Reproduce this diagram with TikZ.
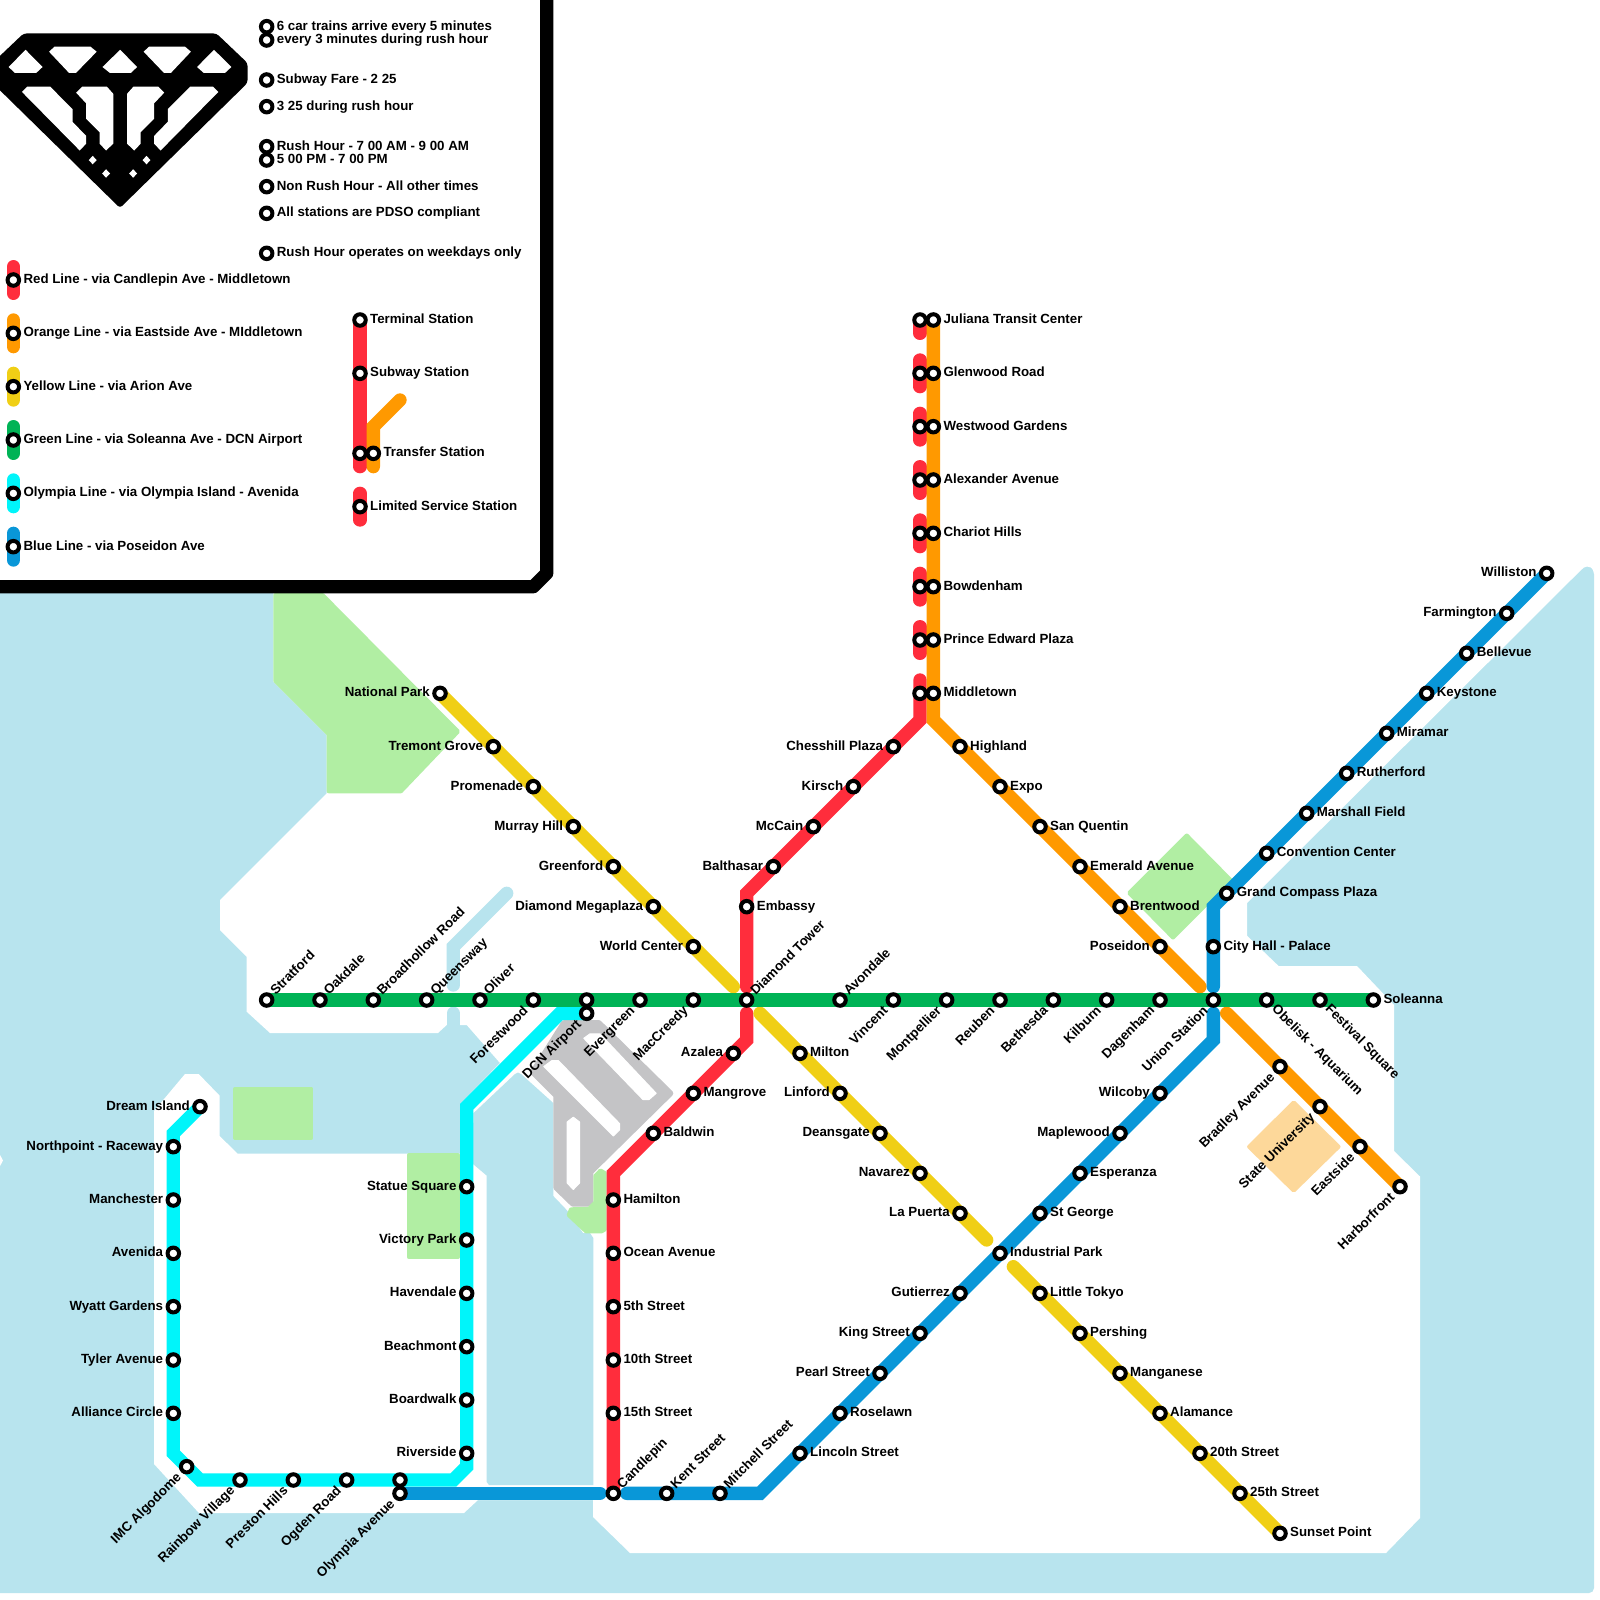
\documentclass[tikz,border=0pt]{standalone}
\usepackage{fontspec}
\setmainfont{Liberation Sans}
\definecolor{cRed}{HTML}{FF2D3C}
\definecolor{cOrange}{HTML}{FF9900}
\definecolor{cYellow}{HTML}{F0CF15}
\definecolor{cGreen}{HTML}{00B356}
\definecolor{cCyan}{HTML}{00F5FA}
\definecolor{cBlue}{HTML}{0997D8}
\definecolor{cWater}{HTML}{B8E4EE}
\definecolor{cPark}{HTML}{B1EEA3}
\definecolor{cGrey}{HTML}{C4C4C6}
\definecolor{cUni}{HTML}{FDD89A}
\pgfdeclarelayer{base}
\pgfdeclarelayer{lines}
\pgfsetlayers{base,lines,main}
\tikzset{
  stn/.style={circle,draw=black,fill=white,line width=4pt,inner sep=0pt,outer sep=0pt,minimum size=11.5pt},
  lbl/.style={inner sep=0pt,font=\fontsize{13.3}{15}\selectfont\bfseries,text=black},
  route/.style={line width=13.33pt,line cap=round,miter limit=10},
  parkshape/.style={fill=cPark,draw=cPark,line width=4pt,line join=round},
  unishape/.style={fill=cUni,draw=cUni,line width=4pt,line join=round},
  greyshape/.style={fill=cGrey,draw=cGrey,line width=6pt,line join=round},
  hole/.style={fill=white,draw=white,line width=1pt,line join=round},
  landshape/.style={fill=white},
  watershape/.style={fill=cWater},
}
\newcommand\stN[3]{\node[stn] (#1) at (#2,#3) {};}
\newcommand\stR[4]{\node[stn] (#1) at (#2,#3) {};\node[lbl,anchor=base west] (#1-l) at (#2+10,#3+3.5) {#4};}
\newcommand\stL[4]{\node[stn] (#1) at (#2,#3) {};\node[lbl,anchor=base east] (#1-l) at (#2-10,#3+3.5) {#4};}
\newcommand\stU[4]{\node[stn] (#1) at (#2,#3) {};\node[lbl,rotate=45,anchor=base west] (#1-l) at (#2+9,#3-4) {#4};}
\newcommand\stD[4]{\node[stn] (#1) at (#2,#3) {};\node[lbl,rotate=45,anchor=base east] (#1-l) at (#2-4.6,#3+11.4) {#4};}
\newcommand\stE[4]{\node[stn] (#1) at (#2,#3) {};\node[lbl,rotate=-45,anchor=base west] (#1-l) at (#2+4.6,#3+9.6) {#4};}
\newcommand\bendpt[3]{\coordinate (#1) at (#2,#3);}
\begin{document}
\begin{tikzpicture}[x=1pt,y=-1pt]
\useasboundingbox (0,0) rectangle (1600,1600);
%---------- geography
\begin{pgfonlayer}{base}
\fill[white] (0,0) rectangle (1600,1600);
\path[watershape,rounded corners=5pt] (-5,500) -- (1594,500) -- (1594,1593) -- (-5,1593) -- cycle;
\path[landshape] (273.3,500) -- (273.3,681.7) -- (326.7,735) -- (326.7,793.3) -- (220,900) -- (220,930)
  -- (246.7,956.7) -- (246.7,1011.7) -- (270,1033) -- (438,1033) -- (446.7,1025) -- (466.7,1025)
  -- (500,1063) -- (460,1104) -- (460,1153.5) -- (237.5,1153.5) -- (219.6,1136) -- (219.6,1095.6)
  -- (198.7,1074) -- (185,1074) -- (154,1111) -- (154,1464) -- (199,1513) -- (464,1513) -- (478,1500)
  -- (593,1500) -- (593,1517) -- (630,1553) -- (1386,1553) -- (1420,1518) -- (1420,1176.5) -- (1394,1151)
  -- (1394,1005) -- (1357,966) -- (1278.6,966) -- (1247,935.7) -- (1247,903) -- (1581,570) -- (1584,567.5) -- (1587,566.5)
  -- (1591,567.5) -- (1593,570) -- (1594,574) -- (1605,574) -- (1605,-5) -- (273.3,-5) -- cycle;
\path[watershape] (473.3,1113.3) -- (515,1074) -- (518,1072.5) -- (521,1074) -- (553.3,1103) -- (553.3,1196) -- (566.7,1210) -- (583,1233)
  -- (590,1233) -- (593.3,1238) -- (593.3,1485) -- (489,1485) -- (486.7,1482) -- (486.7,1175.6) -- (473,1164) -- cycle;
\fill[white] (-1,1153) -- (3,1160.5) -- (-1,1168) -- cycle;
% rivers
\draw[cWater,line width=13.33pt,line cap=round] (453.3,985) -- (453.3,946.7) -- (506.7,893.3);
\draw[cWater,line width=13.33pt,line cap=round] (453.3,1013.3) -- (453.3,1036);
% parks
\path[parkshape] (275.3,595) -- (322.5,595) -- (458,731.5) -- (400.9,791.3) -- (328.7,791.3) -- (328.7,734.2) -- (275.3,680.8) -- cycle;
\path[parkshape] (235.3,1088.7) rectangle (311.3,1138);
\path[parkshape] (408.7,1155.3) rectangle (458,1257);
% airport
\path[greyshape] (564,1023) -- (598.7,1023) -- (670.3,1093.3) -- (590.3,1172) -- (590.3,1202) -- (587,1203.7) -- (573,1203.7) -- (556.3,1187.5) -- (556.3,1095.5) -- (533,1072) -- cycle;
\path[hole] (543.8,1066.5) -- (552,1060.5) -- (558.3,1060.5) -- (619.5,1123.5) -- (619.5,1130) -- (613.3,1136) -- cycle;
\path[hole] (583.8,1038.3) -- (590,1033.8) -- (600,1033.8) -- (656.2,1093.3) -- (649.1,1099.5) -- (642.9,1099.5) -- cycle;
\path[hole] (567.2,1121.9) -- (573.3,1117.2) -- (579.5,1121.9) -- (579.5,1183.1) -- (573.3,1189.5) -- (567.2,1183.1) -- cycle;
\path[parkshape] (595.3,1176) -- (600.5,1170.5) -- (604.7,1173) -- (604.7,1229.5) -- (601.7,1231.3) -- (586,1231.3) -- (568.7,1215) -- (571,1209.3) -- (589,1208.7) -- (595.3,1202.5) -- cycle;
\path[parkshape] (1186.7,835.5) -- (1230.5,880) -- (1173,937.5) -- (1129.2,893) -- cycle;
\path[unishape] (1293.7,1102.5) -- (1338.5,1146.7) -- (1293.7,1190.5) -- (1249.1,1146.7) -- cycle;
% legend panel
\fill[white] (-5,-5) rectangle (546,586);
\draw[black,line width=13.33pt,miter limit=10,line join=round] (546.67,-10) -- (546.67,573.3) -- (533.3,586.67) -- (-10,586.67);
% logo
\begin{scope}[xshift=-1.5pt]
\fill[black,rounded corners=3pt] (25,33.5) -- (218,33.5) -- (249,63) -- (249,83) -- (121.5,208) -- (-6,83) -- (-6,63) -- cycle;
\begin{scope}[xscale=0.361,yscale=0.383]
\fill[white] (28,175) -- (75,130) -- (122,175) -- (105,190) -- (45,190) -- cycle;
\fill[white] (140,135) -- (155,122) -- (255,122) -- (272,135) -- (215,190) -- (195,190) -- cycle;
\fill[white] (288,175) -- (337,130) -- (384,175) -- (367,190) -- (308,190) -- cycle;
\fill[white] (402,135) -- (417,122) -- (517,122) -- (533,135) -- (478,190) -- (458,190) -- cycle;
\fill[white] (550,175) -- (597,130) -- (645,175) -- (628,190) -- (568,190) -- cycle;
\fill[white] (65,240) -- (80,226) -- (143,226) -- (205,285) -- (205,318) -- (243,355) -- (243,375) -- (225,393) -- cycle;
\fill[white] (215,242) -- (232,226) -- (300,226) -- (318,245) -- (318,375) -- (298,393) -- (280,375) -- (280,345) -- (243,310) -- (243,270) -- cycle;
\fill[white] (459,242) -- (442,226) -- (374,226) -- (356,245) -- (356,375) -- (376,393) -- (394,375) -- (394,345) -- (431,310) -- (431,270) -- cycle;
\fill[white] (609,240) -- (594,226) -- (531,226) -- (469,285) -- (469,318) -- (431,355) -- (431,375) -- (449,393) -- cycle;
\foreach \dx/\dy in {261/418,298/453,373/453,410/418}
  \fill[white] (\dx-11,\dy) -- (\dx,\dy-11) -- (\dx+11,\dy) -- (\dx,\dy+11) -- cycle;
\end{scope}
\end{scope}
\end{pgfonlayer}
%---------- legend stations
\stR{n1}{266.67}{26.67}{6 car trains arrive every 5 minutes}
\stR{n2}{266.67}{40}{every 3 minutes during rush hour}
\stR{n3}{266.67}{80}{Subway Fare - 2 25}
\stR{n4}{266.67}{106.67}{3 25 during rush hour}
\stR{n5}{266.67}{146.67}{Rush Hour - 7 00 AM - 9 00 AM}
\stR{n6}{266.67}{160}{5 00 PM - 7 00 PM}
\stR{n7}{266.67}{186.67}{Non Rush Hour - All other times}
\stR{n8}{266.67}{213.33}{All stations are PDSO compliant}
\stR{n9}{266.67}{253.33}{Rush Hour operates on weekdays only}
\stR{kr}{13.33}{280}{Red Line - via Candlepin Ave - Middletown}
\stR{ko}{13.33}{333.33}{Orange Line - via Eastside Ave - MIddletown}
\stR{ky}{13.33}{386.67}{Yellow Line - via Arion Ave}
\stR{kg}{13.33}{440}{Green Line - via Soleanna Ave - DCN Airport}
\stR{kc}{13.33}{493.33}{Olympia Line - via Olympia Island - Avenida}
\stR{kb}{13.33}{546.67}{Blue Line - via Poseidon Ave}
\stR{kt}{360}{320}{Terminal Station}
\stR{ks}{360}{373.33}{Subway Station}
\stN{kx}{360}{453.33}
\stR{kz}{373.33}{453.33}{Transfer Station}
\stR{kl}{360}{506.67}{Limited Service Station}
%---------- yellow
\stL{yA}{440}{693.33}{National Park}
\stL{yB}{493.33}{746.67}{Tremont Grove}
\stL{yC}{533.33}{786.67}{Promenade}
\stL{yD}{573.33}{826.67}{Murray Hill}
\stL{yE}{613.33}{866.67}{Greenford}
\stL{yF}{653.33}{906.67}{Diamond Megaplaza}
\stL{yG}{693.33}{946.67}{World Center}
\stR{yH}{800}{1053.33}{Milton}
\stL{yI}{840}{1093.33}{Linford}
\stL{yJ}{880}{1133.33}{Deansgate}
\stL{yK}{920}{1173.33}{Navarez}
\stL{yL}{960}{1213.33}{La Puerta}
\stR{yM}{1040}{1293.33}{Little Tokyo}
\stR{yN}{1080}{1333.33}{Pershing}
\stR{yO}{1120}{1373.33}{Manganese}
\stR{yP}{1160}{1413.33}{Alamance}
\stR{yQ}{1200}{1453.33}{20th Street}
\stR{yR}{1240}{1493.33}{25th Street}
\stR{yS}{1280}{1533.33}{Sunset Point}
%---------- green
\stU{gA}{266.67}{1000}{Stratford}
\stU{gB}{320}{1000}{Oakdale}
\stU{gC}{373.33}{1000}{Broadhollow Road}
\stU{gD}{426.67}{1000}{Queensway}
\stU{gE}{480}{1000}{Oliver}
\stD{gF}{533.33}{1000}{Forestwood}
\stN{gG}{586.67}{1000}
\stD{gH}{640}{1000}{Evergreen}
\stD{gI}{693.33}{1000}{MacCreedy}
\stU{gJ}{746.67}{1000}{Diamond Tower}
\stU{gK}{840}{1000}{Avondale}
\stD{gL}{893.33}{1000}{Vincent}
\stD{gM}{946.67}{1000}{Montpellier}
\stD{gN}{1000}{1000}{Reuben}
\stD{gO}{1053.33}{1000}{Bethesda}
\stD{gP}{1106.67}{1000}{Kilburn}
\stD{gQ}{1160}{1000}{Dagenham}
\stD{gR}{1213.33}{1000}{Union Station}
\stE{gS}{1266.67}{1000}{Obelisk - Aquarium}
\stE{gT}{1320}{1000}{Festival Square}
\stR{gU}{1373.33}{1000}{Soleanna}
%---------- red
\stN{rA}{920}{320}
\stN{rB}{920}{373.33}
\stN{rC}{920}{426.67}
\stN{rD}{920}{480}
\stN{rE}{920}{533.33}
\stN{rF}{920}{586.67}
\stN{rG}{920}{640}
\stN{rH}{920}{693.33}
\stL{rI}{893.33}{746.67}{Chesshill Plaza}
\stL{rJ}{853.33}{786.67}{Kirsch}
\stL{rK}{813.33}{826.67}{McCain}
\stL{rL}{773.33}{866.67}{Balthasar}
\stR{rM}{746.67}{906.67}{Embassy}
\stL{rN}{733.33}{1053.33}{Azalea}
\stR{rO}{693.33}{1093.33}{Mangrove}
\stR{rP}{653.33}{1133.33}{Baldwin}
\stR{rQ}{613.33}{1200}{Hamilton}
\stR{rR}{613.33}{1253.33}{Ocean Avenue}
\stR{rS}{613.33}{1306.67}{5th Street}
\stR{rT}{613.33}{1360}{10th Street}
\stR{rU}{613.33}{1413.33}{15th Street}
\stU{rV}{613.33}{1493.33}{Candlepin}
%---------- orange
\stR{oA}{933.33}{320}{Juliana Transit Center}
\stR{oB}{933.33}{373.33}{Glenwood Road}
\stR{oC}{933.33}{426.67}{Westwood Gardens}
\stR{oD}{933.33}{480}{Alexander Avenue}
\stR{oE}{933.33}{533.33}{Chariot Hills}
\stR{oF}{933.33}{586.67}{Bowdenham}
\stR{oG}{933.33}{640}{Prince Edward Plaza}
\stR{oH}{933.33}{693.33}{Middletown}
\stR{oI}{960}{746.67}{Highland}
\stR{oJ}{1000}{786.67}{Expo}
\stR{oK}{1040}{826.67}{San Quentin}
\stR{oL}{1080}{866.67}{Emerald Avenue}
\stR{oM}{1120}{906.67}{Brentwood}
\stL{oN}{1160}{946.67}{Poseidon}
\stD{oO}{1280}{1066.67}{Bradley Avenue}
\stD{oP}{1320}{1106.67}{State University}
\stD{oQ}{1360}{1146.67}{Eastside}
\stD{oR}{1400}{1186.67}{Harborfront}
%---------- blue
\stD{bA}{400}{1493.33}{Olympia Avenue}
\stU{bB}{666.67}{1493.33}{Kent Street}
\stU{bC}{720}{1493.33}{Mitchell Street}
\stR{bD}{800}{1453.33}{Lincoln Street}
\stR{bE}{840}{1413.33}{Roselawn}
\stL{bF}{880}{1373.33}{Pearl Street}
\stL{bG}{920}{1333.33}{King Street}
\stL{bH}{960}{1293.33}{Gutierrez}
\stR{bI}{1000}{1253.33}{Industrial Park}
\stR{bJ}{1040}{1213.33}{St George}
\stR{bK}{1080}{1173.33}{Esperanza}
\stL{bL}{1120}{1133.33}{Maplewood}
\stL{bM}{1160}{1093.33}{Wilcoby}
\stR{bN}{1213.33}{946.67}{City Hall - Palace}
\stR{bO}{1226.67}{893.33}{Grand Compass Plaza}
\stR{bP}{1266.67}{853.33}{Convention Center}
\stR{bQ}{1306.67}{813.33}{Marshall Field}
\stR{bR}{1346.67}{773.33}{Rutherford}
\stR{bS}{1386.67}{733.33}{Miramar}
\stR{bT}{1426.67}{693.33}{Keystone}
\stR{bU}{1466.67}{653.33}{Bellevue}
\stL{bV}{1506.67}{613.33}{Farmington}
\stL{bW}{1546.67}{573.33}{Williston}
%---------- cyan
\stD{cA}{586.67}{1013.33}{DCN Airport}
\stL{cB}{466.67}{1186.67}{Statue Square}
\stL{cC}{466.67}{1240}{Victory Park}
\stL{cD}{466.67}{1293.33}{Havendale}
\stL{cE}{466.67}{1346.67}{Beachmont}
\stL{cF}{466.67}{1400}{Boardwalk}
\stL{cG}{466.67}{1453.33}{Riverside}
\stN{cH}{400}{1480}
\stD{cI}{346.67}{1480}{Ogden Road}
\stD{cJ}{293.33}{1480}{Preston Hills}
\stD{cK}{240}{1480}{Rainbow Village}
\stD{cL}{186.67}{1466.67}{IMC Algodome}
\stL{cM}{173.33}{1413.33}{Alliance Circle}
\stL{cN}{173.33}{1360}{Tyler Avenue}
\stL{cO}{173.33}{1306.67}{Wyatt Gardens}
\stL{cP}{173.33}{1253.33}{Avenida}
\stL{cQ}{173.33}{1200}{Manchester}
\stL{cR}{173.33}{1146.67}{Northpoint - Raceway}
\stL{cS}{200}{1106.67}{Dream Island}
%---------- free ends and bends
\bendpt{kr1}{13.33}{266.67}\bendpt{kr2}{13.33}{293.33}
\bendpt{ko1}{13.33}{320}\bendpt{ko2}{13.33}{346.67}
\bendpt{ky1}{13.33}{373.33}\bendpt{ky2}{13.33}{400}
\bendpt{kg1}{13.33}{426.67}\bendpt{kg2}{13.33}{453.33}
\bendpt{kc1}{13.33}{480}\bendpt{kc2}{13.33}{506.67}
\bendpt{kb1}{13.33}{533.33}\bendpt{kb2}{13.33}{560}
\bendpt{kx1}{360}{466.67}
\bendpt{kz1}{373.33}{466.67}\bendpt{kz2}{373.33}{426.67}\bendpt{kz3}{400}{400}
\bendpt{kl1}{360}{493.33}\bendpt{kl2}{360}{520}
\bendpt{yEnd1}{733.33}{986.67}\bendpt{yEnd2}{760}{1013.33}
\bendpt{yEnd3}{986.67}{1240}\bendpt{yEnd4}{1013.33}{1266.67}
\bendpt{rEnd1}{920}{333.33}\bendpt{rBend1}{920}{720}
\bendpt{rBend2}{746.67}{893.33}\bendpt{rEnd2}{746.67}{986.67}
\bendpt{rEnd3}{746.67}{1013.33}\bendpt{rBend3}{746.67}{1040}
\bendpt{rBend4}{613.33}{1173.33}
\bendpt{oBend1}{933.33}{720}\bendpt{oEnd1}{1200}{986.67}\bendpt{oEnd2}{1226.67}{1013.33}
\bendpt{bEnd1}{600}{1493.33}\bendpt{bEnd2}{626.67}{1493.33}\bendpt{bBend1}{760}{1493.33}
\bendpt{bBend2}{1213.33}{1040}\bendpt{bEnd3}{1213.33}{1013.33}
\bendpt{bEnd4}{1213.33}{986.67}\bendpt{bBend3}{1213.33}{906.67}
\bendpt{cBend1}{560}{1013.33}\bendpt{cBend2}{466.67}{1106.67}\bendpt{cBend3}{466.67}{1466.67}
\bendpt{cBend4}{453.33}{1480}\bendpt{cBend5}{200}{1480}\bendpt{cBend6}{173.33}{1453.33}
\bendpt{cBend7}{173.33}{1133.33}
%---------- lines
\begin{pgfonlayer}{lines}
% legend
\draw[route,cRed] (kr1) -- (kr2);
\draw[route,cOrange] (ko1) -- (ko2);
\draw[route,cYellow] (ky1) -- (ky2);
\draw[route,cGreen] (kg1) -- (kg2);
\draw[route,cCyan] (kc1) -- (kc2);
\draw[route,cBlue] (kb1) -- (kb2);
\draw[route,cRed] (kt.center) -- (ks.center) -- (kx.center) -- (kx1);
\draw[route,cOrange] (kz3) -- (kz2) -- (kz.center) -- (kz1);
\draw[route,cRed] (kl1) -- (kl2);
% limited service red stubs
\draw[route,cRed] (rA.center) -- (rEnd1);
\foreach \sid/\sy in {rB/373.33,rC/426.67,rD/480,rE/533.33,rF/586.67,rG/640}
  \draw[route,cRed] (920,\sy-13.33) -- (920,\sy+13.33);
\draw[route,cRed] (920,680) -- (rH.center) -- (rBend1) -- (rI.center) -- (rJ.center) -- (rK.center) -- (rL.center) -- (rBend2) -- (rM.center) -- (rEnd2);
\draw[route,cRed] (rEnd3) -- (rBend3) -- (rN.center) -- (rO.center) -- (rP.center) -- (rBend4) -- (rQ.center) -- (rR.center) -- (rS.center) -- (rT.center) -- (rU.center) -- (rV.center);
\draw[route,cOrange] (oA.center) -- (oB.center) -- (oC.center) -- (oD.center) -- (oE.center) -- (oF.center) -- (oG.center) -- (oH.center) -- (oBend1) -- (oI.center) -- (oJ.center) -- (oK.center) -- (oL.center) -- (oM.center) -- (oN.center) -- (oEnd1);
\draw[route,cOrange] (oEnd2) -- (oO.center) -- (oP.center) -- (oQ.center) -- (oR.center);
\draw[route,cYellow] (yA.center) -- (yB.center) -- (yC.center) -- (yD.center) -- (yE.center) -- (yF.center) -- (yG.center) -- (yEnd1);
\draw[route,cYellow] (yEnd2) -- (yH.center) -- (yI.center) -- (yJ.center) -- (yK.center) -- (yL.center) -- (yEnd3);
\draw[route,cYellow] (yEnd4) -- (yM.center) -- (yN.center) -- (yO.center) -- (yP.center) -- (yQ.center) -- (yR.center) -- (yS.center);
\draw[route,cCyan] (cA.center) -- (cBend1) -- (cBend2) -- (cB.center) -- (cC.center) -- (cD.center) -- (cE.center) -- (cF.center) -- (cG.center) -- (cBend3) -- (cBend4) -- (cH.center) -- (cI.center) -- (cJ.center) -- (cK.center) -- (cBend5) -- (cL.center) -- (cBend6) -- (cM.center) -- (cN.center) -- (cO.center) -- (cP.center) -- (cQ.center) -- (cR.center) -- (cBend7) -- (cS.center);
\draw[route,cBlue] (bA.center) -- (bEnd1);
\draw[route,cBlue] (bEnd2) -- (bB.center) -- (bC.center) -- (bBend1) -- (bD.center) -- (bE.center) -- (bF.center) -- (bG.center) -- (bH.center) -- (bI.center) -- (bJ.center) -- (bK.center) -- (bL.center) -- (bM.center) -- (bBend2) -- (bEnd3);
\draw[route,cBlue] (bEnd4) -- (bN.center) -- (bBend3) -- (bO.center) -- (bP.center) -- (bQ.center) -- (bR.center) -- (bS.center) -- (bT.center) -- (bU.center) -- (bV.center) -- (bW.center);
\draw[route,cGreen,line cap=butt] (gA.center) -- (gU.center);
\end{pgfonlayer}
\end{tikzpicture}
\end{document}
